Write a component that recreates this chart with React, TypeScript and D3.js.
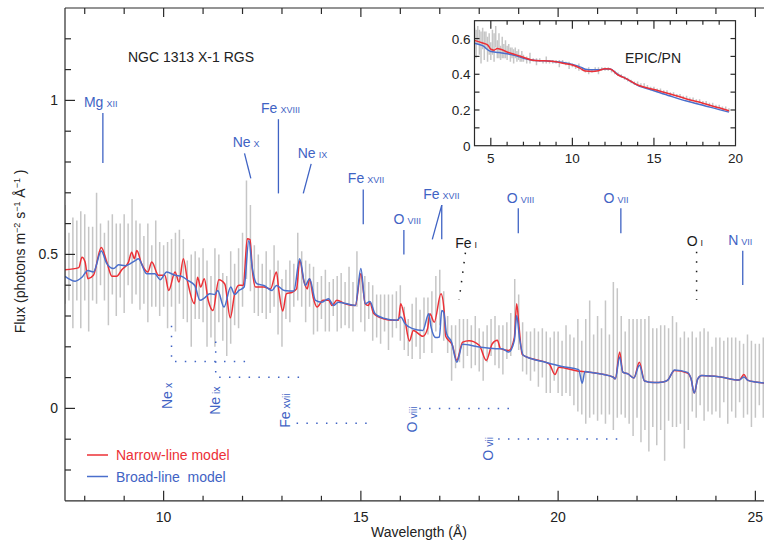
import React from "react";
import * as d3 from "d3";

const FONT = "'Liberation Sans', Arial, Helvetica, sans-serif";
const RED = "#ec3036";
const BLUE = "#4a6fcc";
const LABEL_BLUE = "#3f63c4";
const GRAY = "#c6c6c6";
const AXIS = "#2a2a2a";

// ---------- Main RGS spectrum: bins from 7.5 Å, 0.1 Å wide (values in 0.01 flux units) ----------
const binStart = 7.5;
const binStep = 0.1;
const binCenters = [
  50, 46, 44, 48, 45, 49, 42, 47, 52, 50, 46, 44, 50, 45, 48, 47, 50, 51, 49, 46,
  45, 44, 43, 47, 42, 43, 40, 44, 41, 46, 42, 38, 35, 40, 39, 40, 34, 33, 36, 39,
  33, 30, 36, 37, 39, 45, 58, 52, 42, 40, 39, 40, 38, 43, 36, 31, 37, 38, 40, 46,
  42, 38, 40, 35, 33, 36, 35, 33, 36, 34, 35, 34, 36, 33, 42, 36, 34, 35, 31, 30,
  29, 31, 28, 30, 32, 31, 26, 23, 25, 28, 24, 27, 30, 28, 34, 36, 30, 24, 18, 20,
  22, 21, 23, 20, 22, 19, 17, 21, 23, 22, 20, 19, 22, 24, 33, 28, 20, 18, 17, 19,
  16, 18, 15, 14, 17, 15, 13, 16, 14, 12, 14, 10, 12, 16, 11, 13, 12, 15, 11, 17,
  18, 14, 11, 12, 10, 13, 9, 11, 8, 10, 7, 10, 5, 11, 12, 11, 9, 6, 8, 12,
  10, 13, 11, 12, 9, 11, 10, 12, 9, 11, 10, 12, 9, 11, 8, 9, 11, 10,
];
const binHalfErrors = [
  16, 11, 18, 13, 19, 14, 17, 12, 18, 10, 11, 17, 13, 15, 12, 16, 10, 17, 12, 14,
  11, 16, 10, 14, 12, 10, 14, 11, 16, 12, 13, 10, 15, 11, 10, 12, 14, 10, 16, 11,
  11, 13, 15, 10, 13, 12, 16, 14, 11, 10, 8, 11, 7, 10, 12, 11, 8, 10, 7, 11,
  9, 10, 7, 11, 8, 7, 10, 8, 6, 9, 9, 7, 10, 8, 9, 8, 9, 6, 9, 7,
  8, 6, 9, 7, 6, 9, 7, 6, 9, 8, 8, 9, 6, 10, 9, 9, 8, 6, 9, 7,
  7, 8, 6, 7, 8, 7, 8, 6, 6, 8, 7, 8, 6, 7, 9, 9, 8, 7, 8, 7,
  9, 8, 10, 9, 8, 10, 9, 11, 10, 11, 15, 12, 17, 19, 13, 17, 14, 20, 13, 24,
  21, 16, 14, 17, 19, 16, 20, 18, 22, 16, 19, 17, 22, 15, 18, 17, 14, 19, 15, 13,
  13, 12, 15, 13, 11, 12, 13, 10, 14, 12, 13, 10, 12, 13, 14, 12, 10, 13,
];

// ---------- Narrow-line model (red) ----------
const narrowWl = [
  7.5, 7.85, 7.93, 8.01, 8.08, 8.22, 8.42, 8.56, 8.69, 8.81, 8.94, 9.11, 9.19, 9.26, 9.32, 9.44,
  9.6, 9.7, 9.87, 10.03, 10.13, 10.29, 10.39, 10.5, 10.61, 10.78, 10.86, 10.94, 11.03, 11.13,
  11.25, 11.4, 11.55, 11.69, 11.8, 11.91, 12.02, 12.12, 12.19, 12.25, 12.33, 12.54, 12.71, 12.86,
  12.92, 13.02, 13.11, 13.26, 13.37, 13.45, 13.55, 13.64, 13.7, 13.79, 13.89, 14.04, 14.18, 14.27,
  14.39, 14.6, 14.86, 15.0, 15.11, 15.19, 15.23, 15.32, 15.57, 15.83, 15.95, 16.01, 16.1, 16.23,
  16.33, 16.57, 16.69, 16.75, 16.86, 17.03, 17.11, 17.15, 17.32, 17.43, 17.58, 17.74, 18.0, 18.18,
  18.33, 18.46, 18.54, 18.75, 18.89, 18.95, 19.01, 19.09, 19.34, 19.77, 19.92, 20.02, 20.52, 20.62,
  20.76, 21.39, 21.45, 21.56, 21.64, 21.77, 21.92, 22.06, 22.19, 22.44, 22.66, 22.78, 22.95, 23.28,
  23.37, 23.45, 23.54, 23.64, 24.12, 24.59, 24.71, 24.8, 25.0, 25.6,
];
const narrowFlux = [
  0.45, 0.457, 0.491, 0.475, 0.421, 0.432, 0.522, 0.475, 0.429, 0.429, 0.45, 0.475, 0.507, 0.486, 0.513, 0.47,
  0.443, 0.475, 0.432, 0.432, 0.383, 0.443, 0.41, 0.486, 0.41, 0.34, 0.426, 0.394, 0.421, 0.351,
  0.318, 0.418, 0.404, 0.294, 0.372, 0.4, 0.399, 0.551, 0.548, 0.448, 0.394, 0.394, 0.388, 0.443,
  0.383, 0.316, 0.372, 0.377, 0.388, 0.48, 0.416, 0.388, 0.421, 0.361, 0.329, 0.351, 0.351, 0.334,
  0.351, 0.34, 0.334, 0.437, 0.34, 0.334, 0.344, 0.309, 0.291, 0.286, 0.286, 0.34, 0.3, 0.219,
  0.253, 0.234, 0.259, 0.307, 0.28, 0.372, 0.318, 0.234, 0.205, 0.156, 0.215, 0.22, 0.205, 0.156,
  0.21, 0.221, 0.194, 0.188, 0.23, 0.34, 0.264, 0.175, 0.161, 0.145, 0.11, 0.134, 0.121, 0.12,
  0.118, 0.102, 0.096, 0.183, 0.118, 0.112, 0.099, 0.15, 0.089, 0.084, 0.086, 0.092, 0.123, 0.115,
  0.096, 0.05, 0.096, 0.107, 0.102, 0.092, 0.11, 0.092, 0.086, 0.08,
];

// ---------- Broad-line model (blue) ----------
const broadWl = [
  7.5, 7.76, 7.93, 8.08, 8.22, 8.42, 8.56, 8.73, 8.86, 9.02, 9.28, 9.36, 9.57, 9.78, 9.91, 10.08,
  10.29, 10.45, 10.61, 10.79, 10.92, 11.04, 11.17, 11.3, 11.37, 11.53, 11.7, 11.8, 11.91, 12.04,
  12.16, 12.25, 12.36, 12.54, 12.75, 12.86, 13.06, 13.3, 13.45, 13.59, 13.7, 13.85, 14.01, 14.18,
  14.31, 14.43, 14.86, 15.0, 15.11, 15.23, 15.36, 15.57, 15.91, 16.01, 16.12, 16.31, 16.57, 16.72,
  16.78, 16.9, 16.99, 17.05, 17.1, 17.17, 17.3, 17.43, 17.58, 18.0, 18.42, 18.58, 18.75, 18.89,
  18.95, 19.02, 19.12, 19.68, 20.1, 20.52, 20.61, 20.68, 20.76, 21.39, 21.45, 21.56, 21.64, 21.77,
  21.92, 22.06, 22.19, 22.44, 22.66, 22.78, 22.95, 23.28, 23.37, 23.45, 23.54, 23.64, 24.12, 24.59,
  24.71, 24.8, 25.0, 25.6,
];
const broadFlux = [
  0.429, 0.413, 0.426, 0.448, 0.443, 0.511, 0.47, 0.454, 0.466, 0.463, 0.48, 0.486, 0.437, 0.437, 0.418, 0.443,
  0.432, 0.429, 0.416, 0.399, 0.351, 0.359, 0.372, 0.37, 0.383, 0.329, 0.394, 0.37, 0.383, 0.394,
  0.545, 0.454, 0.405, 0.399, 0.383, 0.399, 0.383, 0.381, 0.486, 0.399, 0.421, 0.351, 0.345, 0.356,
  0.334, 0.345, 0.334, 0.454, 0.34, 0.347, 0.307, 0.293, 0.286, 0.297, 0.275, 0.259, 0.253, 0.307,
  0.264, 0.23, 0.232, 0.318, 0.312, 0.243, 0.215, 0.15, 0.208, 0.199, 0.194, 0.194, 0.183, 0.22,
  0.302, 0.23, 0.172, 0.15, 0.136, 0.126, 0.082, 0.12, 0.118, 0.102, 0.096, 0.167, 0.118, 0.112,
  0.099, 0.14, 0.089, 0.084, 0.086, 0.092, 0.125, 0.117, 0.096, 0.05, 0.096, 0.107, 0.102, 0.092,
  0.102, 0.092, 0.086, 0.08,
];

// ---------- Inset EPIC/PN ----------
const insetBinWl = [...d3.range(4.0, 6.999, 0.1), ...d3.range(7.0, 19.601, 0.2)];
const insetCenters = [
  60, 57, 62, 58, 55, 60, 56, 59, 54, 57, 53, 58, 55, 61, 54, 56, 52, 55, 53, 54,
  52, 54, 51, 52, 50, 52, 50, 51, 49, 50,
  49, 48, 49, 48, 47, 48, 47, 48, 47, 47, 47, 46, 47, 46, 45, 45, 44, 44, 43, 42,
  42, 42, 43, 42, 43, 43, 43, 42, 41, 40, 39, 38, 37, 36, 35, 35, 34, 34, 33, 32,
  32, 31, 31, 30, 30, 29, 29, 28, 28, 27, 27, 26, 26, 25, 25, 24, 24, 23, 23, 22,
  22, 21, 21, 20,
];
const insetHalfErrors = [
  6, 8, 5, 7, 9, 6, 8, 5, 7, 6, 5, 7, 8, 6, 5, 7, 4, 6, 4, 5,
  4, 3, 4, 3, 4, 3, 3, 3, 2, 3,
  2, 2, 3, 1, 2, 1, 1, 2, 1, 1, 1, 2, 1, 1, 2, 1, 1, 2, 1, 1,
  2, 1, 1, 2, 1, 1, 1, 1, 1, 1, 1, 1, 1, 1, 1, 1, 1, 1, 1, 1,
  1, 1, 1, 1, 1, 1, 1, 1, 1, 1, 1, 1, 1, 1, 1, 1, 1, 1, 1, 1,
  1, 1, 1, 1,
];
const insetNarrowWl = [4.0, 4.5, 4.8, 5.0, 5.2, 5.4, 5.6, 6.0, 6.5, 7.0, 7.5, 8.0, 8.5, 9.0, 9.5, 10.0, 10.5, 10.8, 11.2, 11.6, 12.0, 12.3, 12.8, 13.2, 14.0, 15.0, 16.0, 17.0, 18.0, 19.0, 19.6];
const insetNarrowFlux = [0.59, 0.575, 0.565, 0.54, 0.535, 0.545, 0.54, 0.525, 0.51, 0.495, 0.48, 0.476, 0.475, 0.47, 0.46, 0.452, 0.432, 0.418, 0.416, 0.42, 0.431, 0.43, 0.396, 0.38, 0.34, 0.315, 0.29, 0.262, 0.238, 0.212, 0.196];
const insetBroadWl = [4.0, 4.5, 5.0, 5.5, 6.0, 6.5, 7.0, 7.5, 8.0, 8.5, 9.0, 9.5, 10.0, 10.5, 10.8, 11.2, 11.6, 12.0, 12.3, 12.8, 13.2, 14.0, 15.0, 16.0, 17.0, 18.0, 19.0, 19.6];
const insetBroadFlux = [0.574, 0.56, 0.527, 0.522, 0.515, 0.505, 0.49, 0.48, 0.476, 0.475, 0.47, 0.465, 0.455, 0.44, 0.428, 0.425, 0.425, 0.43, 0.43, 0.398, 0.38, 0.338, 0.308, 0.278, 0.25, 0.227, 0.202, 0.188];

// ---------- Line identifications (wavelength Å, flux) ----------
type Ident = { ion: string; stage: string; tx: number; ty: number; line: [number, number][][]; color: string; dotted?: boolean };
const topIdents: Ident[] = [
  { ion: "Mg", stage: "XII", tx: 7.98, ty: 0.979, line: [[[8.46, 0.959], [8.46, 0.797]]], color: LABEL_BLUE },
  { ion: "Ne", stage: "X", tx: 11.75, ty: 0.848, line: [[[12.05, 0.828], [12.21, 0.747]]], color: LABEL_BLUE },
  { ion: "Fe", stage: "XVIII", tx: 12.47, ty: 0.958, line: [[[12.91, 0.939], [12.91, 0.698]]], color: LABEL_BLUE },
  { ion: "Ne", stage: "IX", tx: 13.4, ty: 0.814, line: [[[13.74, 0.794], [13.54, 0.698]]], color: LABEL_BLUE },
  { ion: "Fe", stage: "XVII", tx: 14.67, ty: 0.731, line: [[[15.06, 0.711], [15.06, 0.598]]], color: LABEL_BLUE },
  { ion: "O", stage: "VIII", tx: 15.83, ty: 0.598, line: [[[16.09, 0.579], [16.09, 0.5]]], color: LABEL_BLUE },
  { ion: "Fe", stage: "XVII", tx: 16.58, ty: 0.68, line: [[[17.05, 0.66], [17.05, 0.549]], [[17.05, 0.66], [16.81, 0.549]]], color: LABEL_BLUE },
  { ion: "Fe", stage: "I", tx: 17.39, ty: 0.52, line: [[[17.65, 0.506], [17.49, 0.352]]], color: "#1a1a1a", dotted: true },
  { ion: "O", stage: "VIII", tx: 18.7, ty: 0.668, line: [[[18.99, 0.65], [18.99, 0.569]]], color: LABEL_BLUE },
  { ion: "O", stage: "VII", tx: 21.15, ty: 0.668, line: [[[21.59, 0.65], [21.59, 0.569]]], color: LABEL_BLUE },
  { ion: "O", stage: "I", tx: 23.26, ty: 0.527, line: [[[23.51, 0.509], [23.51, 0.352]]], color: "#1a1a1a", dotted: true },
  { ion: "N", stage: "VII", tx: 24.31, ty: 0.531, line: [[[24.68, 0.512], [24.68, 0.401]]], color: LABEL_BLUE },
];
// blue-shifted absorption: rotated label + dotted guide (wavelength Å, flux)
const shiftIdents: Ident[] = [
  { ion: "Ne", stage: "x", tx: 10.2, ty: -0.002, line: [[[10.2, 0.268], [10.2, 0.152], [12.15, 0.152]]], color: LABEL_BLUE, dotted: true },
  { ion: "Ne", stage: "ix", tx: 11.43, ty: -0.021, line: [[[11.32, 0.217], [11.32, 0.101], [13.5, 0.101]]], color: LABEL_BLUE, dotted: true },
  { ion: "Fe", stage: "xvii", tx: 13.2, ty: -0.063, line: [[[13.37, -0.048], [15.31, -0.048]]], color: LABEL_BLUE, dotted: true },
  { ion: "O", stage: "viii", tx: 16.42, ty: -0.078, line: [[[16.48, 0.0], [18.91, 0.0]]], color: LABEL_BLUE, dotted: true },
  { ion: "O", stage: "vii", tx: 18.34, ty: -0.17, line: [[[18.48, -0.099], [21.61, -0.099]]], color: LABEL_BLUE, dotted: true },
];

const mainXTicks = d3.range(8, 26, 1);
const mainXLabels = [10, 15, 20, 25];
const mainYTicks = d3.range(-2, 13, 1).map((v) => v / 10);
const mainYLabels = [
  { v: 0, t: "0" },
  { v: 0.5, t: "0.5" },
  { v: 1, t: "1" },
];
const insetXTicks = d3.range(5, 20, 1);
const insetXLabels = [5, 10, 15, 20];
const insetYTicks = [0.1, 0.2, 0.3, 0.4, 0.5, 0.6];
const insetYLabels = [
  { v: 0, t: "0" },
  { v: 0.2, t: "0.2" },
  { v: 0.4, t: "0.4" },
  { v: 0.6, t: "0.6" },
];

export default function App() {
  const W = 764;
  const H = 540;
  const x = d3.scaleLinear().domain([7.5, 25.5]).range([65, 775.1]);
  const y = d3.scaleLinear().domain([-0.3, 1.3]).range([500.8, 8]);
  const ix = d3.scaleLinear().domain([4, 20]).range([474.5, 735.5]);
  const iy = d3.scaleLinear().domain([0, 0.7]).range([145.7, 20.7]);

  const mainLine = d3
    .line<[number, number]>()
    .x((d) => x(d[0]))
    .y((d) => y(d[1]))
    .curve(d3.curveMonotoneX);
  const insetLine = d3
    .line<[number, number]>()
    .x((d) => ix(d[0]))
    .y((d) => iy(d[1]))
    .curve(d3.curveMonotoneX);
  const polyline = d3
    .line<[number, number]>()
    .x((d) => x(d[0]))
    .y((d) => y(d[1]));

  const narrowPts = narrowWl.map((w, i) => [w, narrowFlux[i]] as [number, number]);
  const broadPts = broadWl.map((w, i) => [w, broadFlux[i]] as [number, number]);
  const iNarrowPts = insetNarrowWl.map((w, i) => [w, insetNarrowFlux[i]] as [number, number]);
  const iBroadPts = insetBroadWl.map((w, i) => [w, insetBroadFlux[i]] as [number, number]);

  const x0 = x.range()[0];
  const yB = y.range()[0];
  const yT = y.range()[1];

  return (
    <svg
      width={W}
      height={H}
      viewBox={`0 0 ${W} ${H}`}
      style={{ position: "absolute", left: 0, top: 0, background: "#fff", fontFamily: FONT }}
    >
      <defs>
        <clipPath id="mainClip">
          <rect x={x0} y={yT} width={W - x0} height={yB - yT} />
        </clipPath>
        <clipPath id="insetClip">
          <rect x={ix(4)} y={iy(0.7)} width={ix(20) - ix(4)} height={iy(0) - iy(0.7)} />
        </clipPath>
      </defs>

      {/* error bars */}
      <g clipPath="url(#mainClip)">
        {binCenters.map((c, i) => {
          const w = binStart + i * binStep;
          const h = binHalfErrors[i];
          return (
            <line
              key={i}
              x1={x(w)}
              x2={x(w)}
              y1={y((c - h) / 100)}
              y2={y((c + h) / 100)}
              stroke={GRAY}
              strokeWidth={1.5}
            />
          );
        })}
        <path d={mainLine(narrowPts) || ""} fill="none" stroke={RED} strokeWidth={1.5} />
        <path d={mainLine(broadPts) || ""} fill="none" stroke={BLUE} strokeWidth={1.5} />
      </g>

      {/* main axes frame */}
      <g stroke={AXIS} strokeWidth={1.2} fill="none">
        <line x1={x0} x2={W} y1={yB} y2={yB} />
        <line x1={x0} x2={W} y1={yT} y2={yT} />
        <line x1={x0} x2={x0} y1={yT} y2={yB} />
        {mainXTicks.map((t) => {
          const major = t % 5 === 0;
          const len = major ? 10 : 5;
          return (
            <g key={t}>
              <line x1={x(t)} x2={x(t)} y1={yB} y2={yB - len} />
              <line x1={x(t)} x2={x(t)} y1={yT} y2={yT + (major ? 9 : 6)} />
            </g>
          );
        })}
        {mainYTicks.map((t) => {
          const major = Math.abs(t * 2 - Math.round(t * 2)) < 1e-6;
          return <line key={t} x1={x0} x2={x0 + (major ? 10 : 6)} y1={y(t)} y2={y(t)} />;
        })}
      </g>
      <g fontSize={14} fill="#222">
        {mainXLabels.map((t) => (
          <text key={t} x={x(t)} y={yB + 21} textAnchor="middle">
            {t}
          </text>
        ))}
        {mainYLabels.map((d) => (
          <text key={d.t} x={x0 - 7} y={y(d.v) + 5} textAnchor="end">
            {d.t}
          </text>
        ))}
        <text x={419} y={537} textAnchor="middle">
          Wavelength (Å)
        </text>
        <text transform={`translate(25,${(yT + yB) / 2 - 3}) rotate(-90)`} textAnchor="middle">
          Flux (photons m<tspan dy={-5} fontSize={9}>−2</tspan>
          <tspan dy={5}> s</tspan>
          <tspan dy={-5} fontSize={9}>−1</tspan>
          <tspan dy={5}> Å</tspan>
          <tspan dy={-5} fontSize={9}>−1</tspan>
          <tspan dy={5}> )</tspan>
        </text>
        <text x={128} y={62}>
          NGC 1313 X-1 RGS
        </text>
      </g>

      {/* top identifications */}
      {topIdents.map((d, i) => (
        <g key={"t" + i}>
          <text x={x(d.tx)} y={y(d.ty)} fill={d.color} fontSize={14}>
            {d.ion}
            <tspan dx={3} fontSize={9}>
              {d.stage}
            </tspan>
          </text>
          {d.line.map((seg, j) => (
            <path
              key={j}
              d={polyline(seg) || ""}
              fill="none"
              stroke={d.color}
              strokeWidth={d.dotted ? 1.5 : 1.3}
              strokeDasharray={d.dotted ? "1.5 8" : undefined}
            />
          ))}
        </g>
      ))}

      {/* blue-shifted identifications */}
      {shiftIdents.map((d, i) => (
        <g key={"s" + i}>
          <text
            transform={`translate(${x(d.tx)},${y(d.ty)}) rotate(-90)`}
            fill={d.color}
            fontSize={14}
          >
            {d.ion}
            <tspan dx={3} fontSize={10.5}>
              {d.stage}
            </tspan>
          </text>
          {d.line.map((seg, j) => (
            <path
              key={j}
              d={polyline(seg) || ""}
              fill="none"
              stroke={d.color}
              strokeWidth={1.5}
              strokeDasharray="1.5 8.3"
            />
          ))}
        </g>
      ))}

      {/* legend */}
      <g fontSize={14}>
        <line x1={87} x2={108} y1={455} y2={455} stroke={RED} strokeWidth={1.5} />
        <text x={116} y={460} fill={RED}>
          Narrow-line model
        </text>
        <line x1={87} x2={108} y1={476.5} y2={476.5} stroke={BLUE} strokeWidth={1.5} />
        <text x={116} y={481.5} fill={LABEL_BLUE} style={{ whiteSpace: "pre" }}>
          {"Broad-line  model"}
        </text>
      </g>

      {/* inset */}
      <rect
        x={ix(4)}
        y={iy(0.7)}
        width={ix(20) - ix(4)}
        height={iy(0) - iy(0.7)}
        fill="#fff"
      />
      <g clipPath="url(#insetClip)">
        {insetCenters.map((c, i) => {
          const w = insetBinWl[i];
          const h = insetHalfErrors[i];
          return (
            <line
              key={i}
              x1={ix(w)}
              x2={ix(w)}
              y1={iy((c - h) / 100)}
              y2={iy((c + h) / 100)}
              stroke={GRAY}
              strokeWidth={1.5}
            />
          );
        })}
        <path d={insetLine(iBroadPts) || ""} fill="none" stroke={BLUE} strokeWidth={1.5} />
        <path d={insetLine(iNarrowPts) || ""} fill="none" stroke={RED} strokeWidth={1.5} />
      </g>
      <g stroke={AXIS} strokeWidth={1.2} fill="none">
        <rect x={ix(4)} y={iy(0.7)} width={ix(20) - ix(4)} height={iy(0) - iy(0.7)} />
        {insetXTicks.map((t) => {
          const major = t % 5 === 0;
          const len = major ? 8 : 4;
          return (
            <g key={t}>
              <line x1={ix(t)} x2={ix(t)} y1={iy(0)} y2={iy(0) - len} />
              <line x1={ix(t)} x2={ix(t)} y1={iy(0.7)} y2={iy(0.7) + len} />
            </g>
          );
        })}
        {insetYTicks.map((t) => (
          <g key={t}>
            <line x1={ix(4)} x2={ix(4) + 5} y1={iy(t)} y2={iy(t)} />
            <line x1={ix(20)} x2={ix(20) - 5} y1={iy(t)} y2={iy(t)} />
          </g>
        ))}
      </g>
      <g fontSize={13.5} fill="#222">
        {insetXLabels.map((t) => (
          <text key={t} x={ix(t)} y={iy(0) + 17} textAnchor="middle">
            {t}
          </text>
        ))}
        {insetYLabels.map((d) => (
          <text key={d.t} x={ix(4) - 4} y={iy(d.v) + 5} textAnchor="end">
            {d.t}
          </text>
        ))}
        <text x={625} y={63} fontSize={14}>
          EPIC/PN
        </text>
      </g>
    </svg>
  );
}
